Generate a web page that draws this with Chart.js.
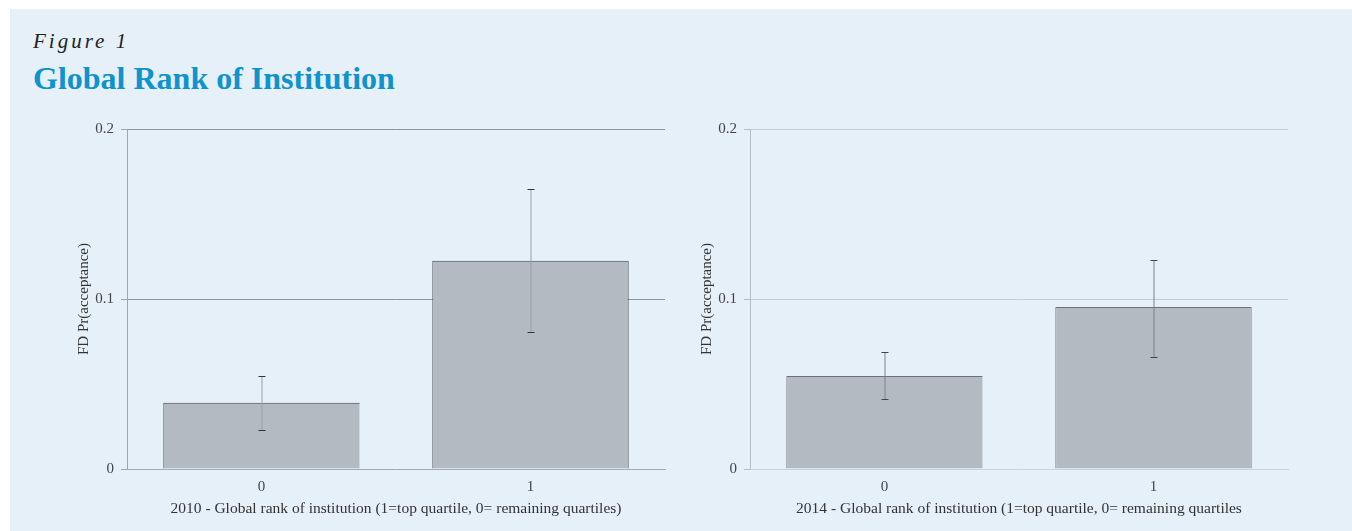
<!DOCTYPE html>
<html>
<head>
<meta charset="utf-8">
<script src="https://cdn.jsdelivr.net/npm/chart.js@4"></script>
<style>
  html, body { margin: 0; padding: 0; background: #fff; }
  body { width: 1352px; height: 531px; position: relative; overflow: hidden; }
  .panel { position: absolute; left: 10px; top: 9px; right: 0; bottom: 0; background: #e6f0f9; }
  .fig { position: absolute; left: 33px; top: 29px; font: italic 21px "Liberation Serif", serif; letter-spacing: 3px; color: #222; }
  .title { position: absolute; left: 33px; top: 60px; font: bold 32px "Liberation Serif", serif; color: #0f93cf; }
  .box { position: absolute; top: 110px; width: 660px; height: 420px; }
</style>
</head>
<body>
<div class="panel"></div>
<div class="fig">Figure 1</div>
<div class="title">Global Rank of Institution</div>
<div class="box" style="left:20px"><canvas id="c2010"></canvas></div>
<div class="box" style="left:643px"><canvas id="c2014"></canvas></div>
<script>
// categories and values
const categories = ['0', '1'];
const yTicks = [0, 0.1, 0.2];

const values2010 = [0.039, 0.1225];
const errLow2010 = [0.023, 0.0805];
const errHigh2010 = [0.0547, 0.1647];

const values2014 = [0.0547, 0.0953];
const errLow2014 = [0.0412, 0.0659];
const errHigh2014 = [0.0688, 0.1229];

const FONT = '"Liberation Serif", "Times New Roman", serif';

// error bars drawn through the chart's own scales
const errorBars = {
  id: 'errorBars',
  afterDatasetsDraw(chart, args, opts) {
    const { ctx, scales: { x, y } } = chart;
    ctx.save();
    opts.low.forEach((lo, i) => {
      const px = x.getPixelForValue(i);
      const yLo = y.getPixelForValue(lo);
      const yHi = y.getPixelForValue(opts.high[i]);
      ctx.strokeStyle = opts.color;
      ctx.lineWidth = 1;
      ctx.beginPath();
      ctx.moveTo(px + 0.5, yHi);
      ctx.lineTo(px + 0.5, yLo);
      ctx.stroke();
      ctx.strokeStyle = opts.capColor;
      ctx.beginPath();
      ctx.moveTo(px - 3, Math.round(yHi) + 0.5);
      ctx.lineTo(px + 4, Math.round(yHi) + 0.5);
      ctx.moveTo(px - 3, Math.round(yLo) + 0.5);
      ctx.lineTo(px + 4, Math.round(yLo) + 0.5);
      ctx.stroke();
    });
    ctx.restore();
  }
};

function makeChart(id, values, low, high, xTitle, style) {
  return new Chart(document.getElementById(id), {
    type: 'bar',
    data: {
      labels: categories,
      datasets: [{
        data: values,
        backgroundColor: '#b4bac2',
        borderColor: style.barBorder,
        borderWidth: [
          { top: 1, left: 1, right: 0, bottom: 0 },
          { top: 1, left: 1, right: 1, bottom: 0 }
        ],
        borderSkipped: false,
        barPercentage: 0.73,
        categoryPercentage: 1
      }]
    },
    options: {
      responsive: true,
      maintainAspectRatio: false,
      animation: false,
      layout: { padding: { top: 19, right: 15, left: 0, bottom: 0 } },
      plugins: {
        legend: { display: false },
        tooltip: { enabled: false },
        errorBars: { low, high, color: style.errColor, capColor: style.capColor }
      },
      scales: {
        x: {
          grid: { display: false, drawTicks: false },
          border: { display: true, color: style.zeroLine, width: 1 },
          ticks: { color: '#444', font: { family: FONT, size: 15 }, padding: 9 },
          title: {
            display: true, text: xTitle, color: '#333',
            font: { family: FONT, size: 15.5 }, padding: { top: 0, bottom: 12 }
          },
          afterFit: s => { s.height = 61; }
        },
        y: {
          min: 0, max: 0.2,
          afterBuildTicks: s => { s.ticks = yTicks.map(v => ({ value: v })); },
          grid: {
            color: c => c.tick.value === 0 ? 'rgba(0,0,0,0)' : style.grid,
            tickColor: style.axis,
            tickLength: 6,
            drawOnChartArea: true
          },
          border: { display: true, color: style.axis, width: 1 },
          ticks: {
            color: '#444', font: { family: FONT, size: 15 }, padding: 7,
            callback: v => v === 0 ? '0' : String(v)
          },
          title: {
            display: true, text: 'FD Pr(acceptance)', color: '#333',
            font: { family: FONT, size: 15 }, padding: { top: 55, bottom: 0 }
          },
          afterFit: s => { s.width = 107; }
        }
      }
    },
    plugins: [errorBars]
  });
}

makeChart('c2010', values2010, errLow2010, errHigh2010,
  '2010 - Global rank of institution (1=top quartile, 0= remaining quartiles)',
  { barBorder: '#3d3f42', grid: '#8e949a', axis: '#9ea6ad', zeroLine: '#a3abb2', errColor: '#9aa0a6', capColor: '#333' });

makeChart('c2014', values2014, errLow2014, errHigh2014,
  '2014 - Global rank of institution (1=top quartile, 0= remaining quartiles',
  { barBorder: '#6d7075', grid: '#c3cdd5', axis: '#b4bec6', zeroLine: '#c9d3db', errColor: '#7d8288', capColor: '#444' });
</script>
</body>
</html>
